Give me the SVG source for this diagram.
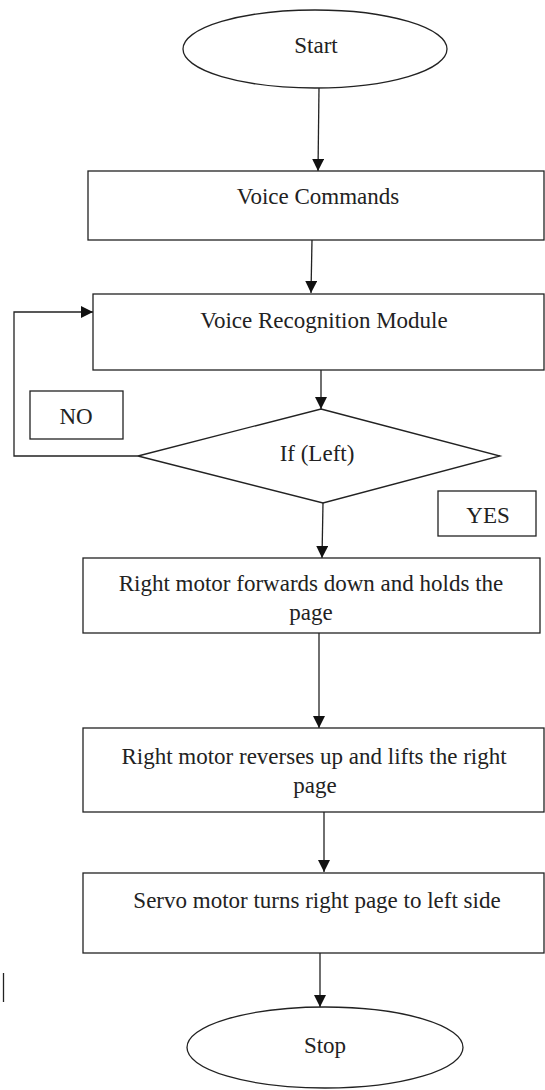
<svg xmlns="http://www.w3.org/2000/svg" width="545" height="1090" viewBox="0 0 545 1090">
<style>
.n{fill:#fff;stroke:#222;stroke-width:1.3}
.t{font-family:'Liberation Serif','Times New Roman','DejaVu Serif',serif;font-size:23px;fill:#222;text-anchor:middle}
.c{fill:none;stroke:#222;stroke-width:1.3}
</style>
<defs>
<marker id="ah" viewBox="0 0 12 12" refX="12" refY="6" markerWidth="12" markerHeight="12" markerUnits="userSpaceOnUse" orient="auto">
<path d="M0,0 L12,6 L0,12 Z" fill="#111"/>
</marker>
</defs>
<rect width="545" height="1090" fill="#fff"/>
<g id="connectors">
<line class="c" x1="319" y1="88" x2="318" y2="171" marker-end="url(#ah)"/>
<line class="c" x1="312" y1="240" x2="311" y2="293" marker-end="url(#ah)"/>
<line class="c" x1="321" y1="370" x2="321" y2="409" marker-end="url(#ah)"/>
<polyline class="c" points="138,456 14,456 14,312 93,312" marker-end="url(#ah)"/>
<line class="c" x1="323" y1="503" x2="322" y2="558" marker-end="url(#ah)"/>
<line class="c" x1="319" y1="633" x2="319" y2="728" marker-end="url(#ah)"/>
<line class="c" x1="324" y1="812" x2="324" y2="872" marker-end="url(#ah)"/>
<line class="c" x1="320" y1="953" x2="320" y2="1007" marker-end="url(#ah)"/>
</g>
<g id="start">
<ellipse class="n" cx="315" cy="49" rx="132" ry="39"/>
<text class="t" x="316" y="53">Start</text>
</g>
<g id="voice-commands">
<rect class="n" x="88" y="171" width="456" height="69"/>
<text class="t" x="318" y="204">Voice Commands</text>
</g>
<g id="voice-recognition">
<rect class="n" x="93" y="294" width="451" height="76"/>
<text class="t" x="324" y="328">Voice Recognition Module</text>
</g>
<g id="decision">
<polygon class="n" points="321,409 500,456 323,503 138,456"/>
<text class="t" x="317" y="461">If (Left)</text>
</g>
<g id="no-label">
<rect class="n" x="30" y="391" width="93" height="48"/>
<text class="t" x="76" y="424">NO</text>
</g>
<g id="yes-label">
<rect class="n" x="438" y="491" width="98" height="45"/>
<text class="t" x="488" y="523">YES</text>
</g>
<g id="forward-hold">
<rect class="n" x="83" y="558" width="457" height="75"/>
<text class="t" x="311" y="591">Right motor forwards down and holds the</text>
<text class="t" x="311" y="620">page</text>
</g>
<g id="reverse-lift">
<rect class="n" x="83" y="728" width="461" height="84"/>
<text class="t" x="314" y="764">Right motor reverses up and lifts the right</text>
<text class="t" x="315" y="793">page</text>
</g>
<g id="servo-turn">
<rect class="n" x="83" y="873" width="461" height="80"/>
<text class="t" x="317" y="908">Servo motor turns right page to left side</text>
</g>
<g id="stop">
<ellipse class="n" cx="325" cy="1047.5" rx="138" ry="40.5"/>
<text class="t" x="325" y="1053">Stop</text>
</g>
<line x1="3.5" y1="973" x2="3.5" y2="1002" stroke="#222" stroke-width="1.3"/>
</svg>
